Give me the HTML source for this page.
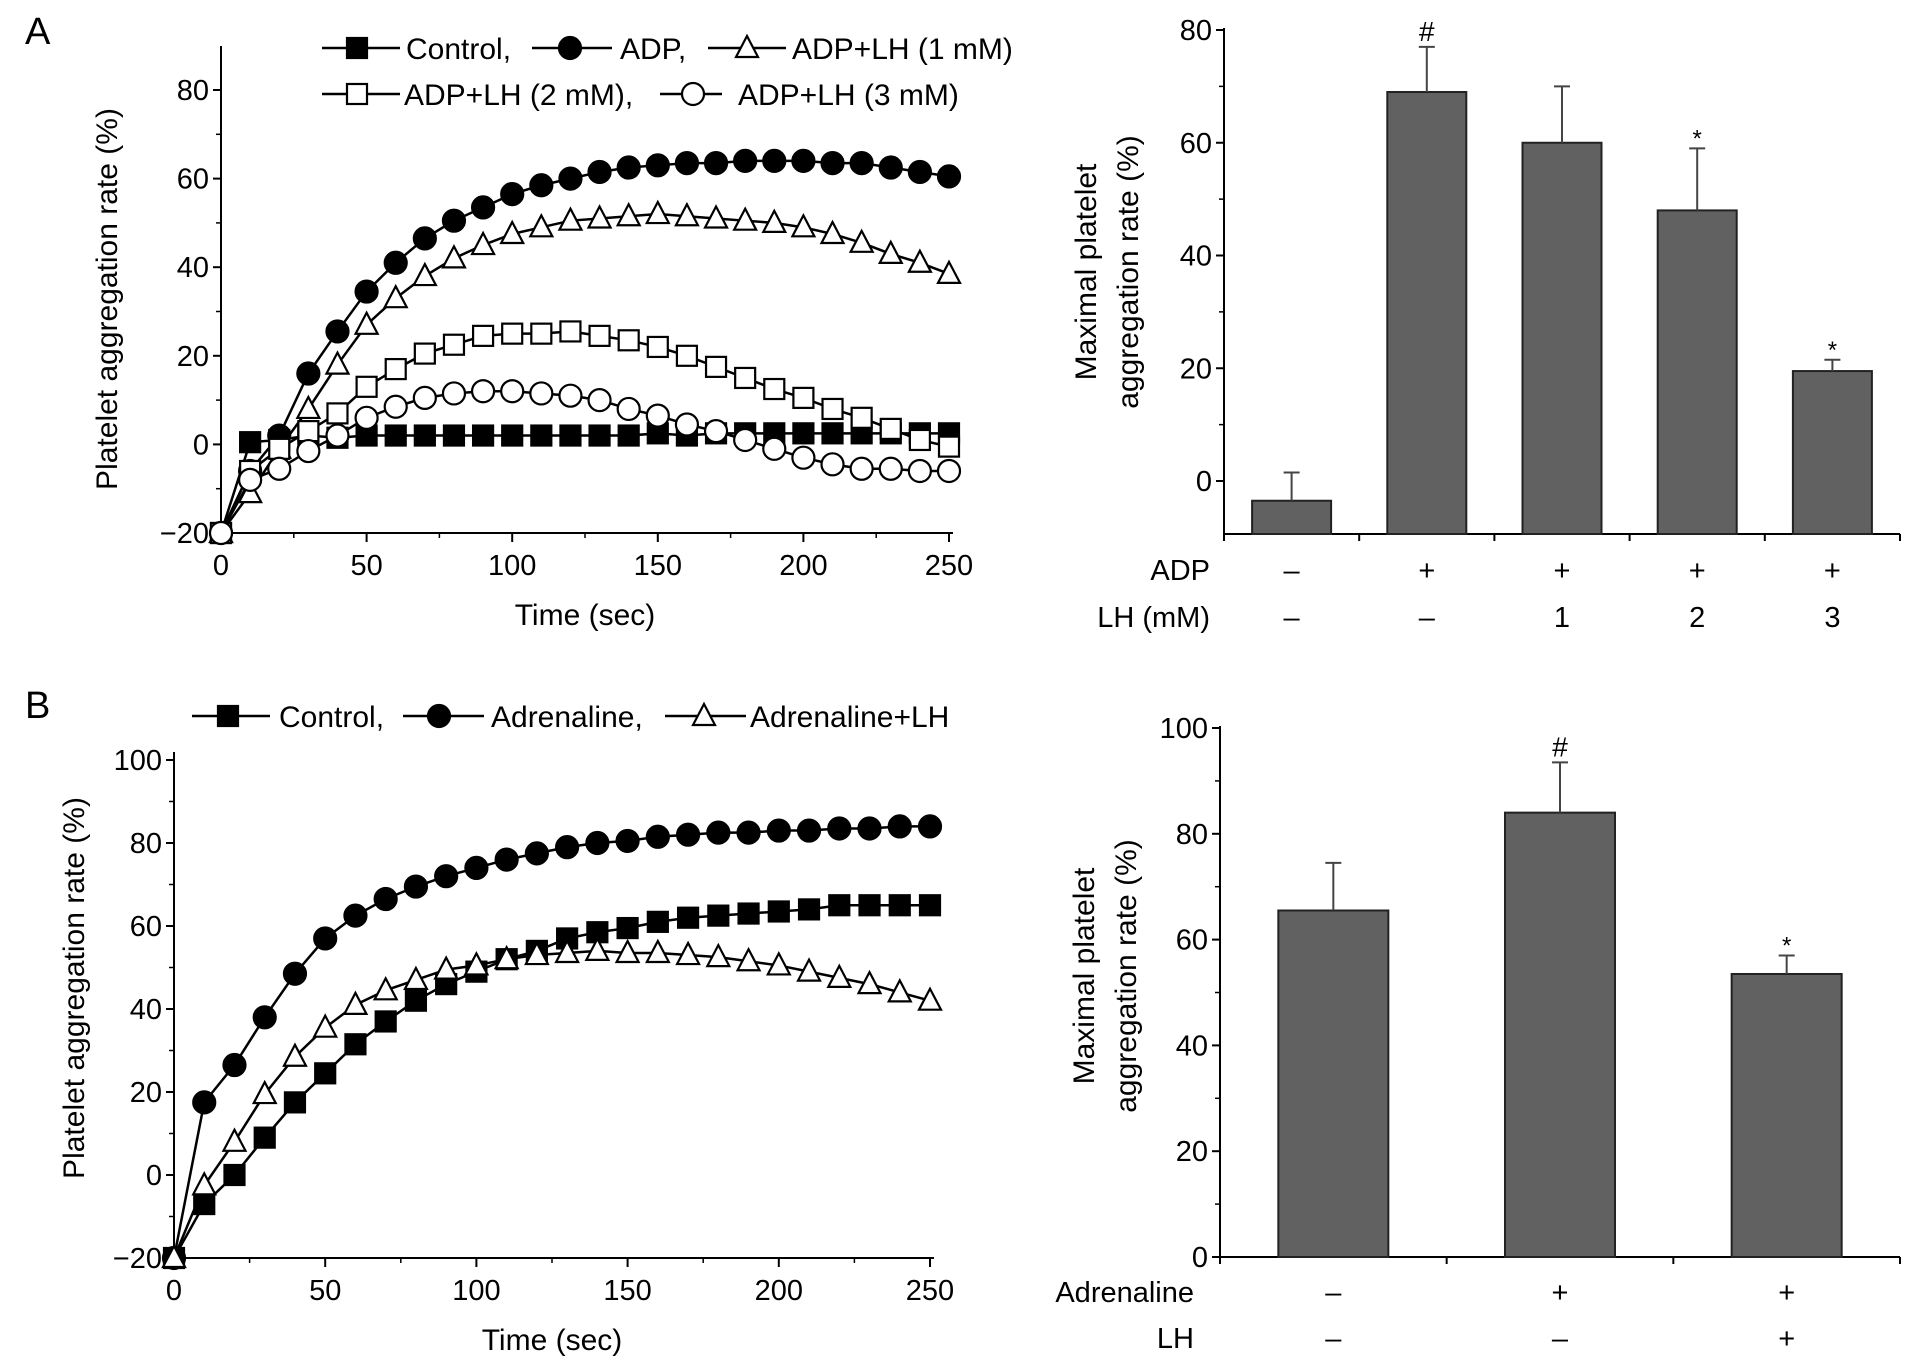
<!DOCTYPE html>
<html><head><meta charset="utf-8"><style>
body{margin:0;background:#fff}
svg{display:block;font-family:"Liberation Sans",Arial,sans-serif}
</style></head><body>
<svg id="fig" width="1913" height="1369" viewBox="0 0 1913 1369"></svg>
<script>
const timeA=[0,10,20,30,40,50,60,70,80,90,100,110,120,130,140,150,160,170,180,190,200,210,220,230,240,250];
const controlA=[-20,0.5,1,2,1.5,2,2,2,2,2,2,2,2,2,2,2.5,2,2.5,2.5,2.5,2.5,2.5,2.5,2.5,2.5,2.5];
const adpA=[-20,-6,2,16,25.5,34.5,41,46.5,50.5,53.5,56.5,58.5,60,61.5,62.5,63,63.5,63.5,64,64,64,63.5,63.5,62.5,61.5,60.5];
const lh1A=[-20,-11,-1,8,18,27,33,38,42,45,47.5,49,50.5,51,51.5,52,51.5,51,50.5,50,49,47.5,45.5,43,41,38.5];
const lh2A=[-20,-6,-1,3,7,13,17,20.5,22.5,24.5,25,25,25.5,24.5,23.5,22,20,17.5,15,12.5,10.5,8,6,3.5,1,-0.5];
const lh3A=[-20,-8,-5.5,-1.5,2,6,8.5,10.5,11.5,12,12,11.5,11,10,8,6.5,4.5,3,1,-1,-3,-4.5,-5.5,-5.5,-6,-6];
const timeB=[0,10,20,30,40,50,60,70,80,90,100,110,120,130,140,150,160,170,180,190,200,210,220,230,240,250];
const controlB=[-20,-7,0,9,17.5,24.5,31.5,37,42,46,49,52,54,57,58.5,59.5,61,62,62.5,63,63.5,64,65,65,65,65];
const adrB=[-20,17.5,26.5,38,48.5,57,62.5,66.5,69.5,72,74,76,77.5,79,80,80.5,81.5,82,82.5,82.5,83,83,83.5,83.5,84,84];
const adrLhB=[-20,-2.5,8,19.5,28.5,35.5,41,44.5,47,49.5,50.5,52,53,53.5,54,53.5,53.5,53,52.5,51.5,50.5,49,47.5,46,44,42];
const barAVals=[-3.5,69,60,48,19.5];
const barAErr=[5,8,10,11,2];
const barAAdp=['–','+','+','+','+'];
const barALh=['–','–','1','2','3'];
const barASig=['','#','','*','*'];
const barBVals=[65.5,84,53.5];
const barBErr=[9,9.5,3.5];
const barBAdr=['–','+','+'];
const barBLh=['–','–','+'];
const barBSig=['','#','*'];
const yTicksA=[-20,0,20,40,60,80];
const xTicks=[0,50,100,150,200,250];
const yTicksBarA=[0,20,40,60,80];
const yTicksB=[-20,0,20,40,60,80,100];
const yTicksBarB=[0,20,40,60,80,100];

const NS='http://www.w3.org/2000/svg';
const svg=document.getElementById('fig');
function el(tag,attrs,parent,text){const e=document.createElementNS(NS,tag);for(const k in attrs)e.setAttribute(k,attrs[k]);if(text!==undefined)e.textContent=text;(parent||svg).appendChild(e);return e;}
function grp(name,parent){const g=el('g',{},parent);return g;}
function lin(x0,x1,d0,d1){return v=>x0+(v-d0)/(d1-d0)*(x1-x0);}

function marker(g,type,x,y){
  const s=10;let m;
  if(type==='sq'||type==='osq') m=el('rect',{x:x-s,y:y-s,width:2*s,height:2*s,fill:type==='sq'?'#000':'#fff',stroke:'#000','stroke-width':2.2},g);
  else if(type==='ci'||type==='oci') m=el('circle',{cx:x,cy:y,r:s+1,fill:type==='ci'?'#000':'#fff',stroke:'#000','stroke-width':2.2},g);
  else m=el('polygon',{points:`${x},${y-s-2} ${x+s+1},${y+s-1} ${x-s-1},${y+s-1}`,fill:'#fff',stroke:'#000','stroke-width':2.2},g);
  
  
}

function lineChart(cfg){
  const g=grp(cfg.name);
  const X=lin(cfg.x0,cfg.x1,0,250), Y=lin(cfg.yb,cfg.yt,cfg.dmin,cfg.dmax);
  const ax=grp('axes',g);
  el('line',{x1:cfg.x0,y1:cfg.axTop,x2:cfg.x0,y2:Y(cfg.dmin),stroke:'#000','stroke-width':2},ax);
  el('line',{x1:cfg.x0,y1:Y(cfg.dmin),x2:cfg.x1+4,y2:Y(cfg.dmin),stroke:'#000','stroke-width':2},ax);
  cfg.yTicks.forEach(v=>{el('line',{x1:cfg.x0-8,y1:Y(v),x2:cfg.x0,y2:Y(v),stroke:'#000','stroke-width':2},ax);
    const t=el('text',{x:cfg.x0-12,y:Y(v)+10,'text-anchor':'end','font-size':29},ax,v<0?'−'+(-v):v);});
  for(let i=0;i<cfg.yTicks.length-1;i++){const v=(cfg.yTicks[i]+cfg.yTicks[i+1])/2;el('line',{x1:cfg.x0-5,y1:Y(v),x2:cfg.x0,y2:Y(v),stroke:'#000','stroke-width':1.5},ax);}
  xTicks.forEach(v=>{el('line',{x1:X(v),y1:Y(cfg.dmin),x2:X(v),y2:Y(cfg.dmin)+9,stroke:'#000','stroke-width':2},ax);
    const t=el('text',{x:X(v),y:Y(cfg.dmin)+42,'text-anchor':'middle','font-size':29},ax,v);});
  for(let i=0;i<xTicks.length-1;i++){const v=xTicks[i]+25;el('line',{x1:X(v),y1:Y(cfg.dmin),x2:X(v),y2:Y(cfg.dmin)+5,stroke:'#000','stroke-width':1.5},ax);}
  const xt=el('text',{x:(cfg.x0+cfg.x1)/2,y:Y(cfg.dmin)+92,'text-anchor':'middle','font-size':30},g,'Time (sec)');
  
  const yt=el('text',{x:0,y:0,'text-anchor':'middle','font-size':30,transform:`translate(${cfg.ytx},${cfg.yty}) rotate(-90)`},g,'Platelet aggregation rate (%)');
  
  cfg.series.forEach(s=>{
    const sg=grp('series-'+s.name,g);
    el('polyline',{points:s.t.map((t,i)=>X(t)+','+Y(s.v[i])).join(' '),fill:'none',stroke:'#000','stroke-width':2.5},sg);
    s.t.forEach((t,i)=>marker(sg,s.m,X(t),Y(s.v[i])));
  });
  const lg=grp('legend',g);
  cfg.legend.forEach(l=>{
    const eg=grp('legend-entry',lg);
    el('line',{x1:l.l0,y1:l.y,x2:l.l1,y2:l.y,stroke:'#000','stroke-width':2.5},eg);
    marker(eg,l.m,l.mx,l.y);
    el('text',{x:l.tx,y:l.y+11,'font-size':30},eg,l.text);
  });
}

function barChart(cfg){
  const g=grp(cfg.name);
  const Y=lin(cfg.y0px,cfg.ytpx,0,cfg.dtop);
  const base=cfg.basePx;
  const ax=grp('axes',g);
  el('line',{x1:cfg.x0,y1:cfg.axTop,x2:cfg.x0,y2:base,stroke:'#000','stroke-width':2},ax);
  el('line',{x1:cfg.x0,y1:base,x2:cfg.x1,y2:base,stroke:'#000','stroke-width':2},ax);
  cfg.yTicks.forEach(v=>{el('line',{x1:cfg.x0-8,y1:Y(v),x2:cfg.x0,y2:Y(v),stroke:'#000','stroke-width':2},ax);
    const t=el('text',{x:cfg.x0-12,y:Y(v)+10,'text-anchor':'end','font-size':29},ax,v);});
  for(let i=0;i<cfg.yTicks.length-1;i++){const v=(cfg.yTicks[i]+cfg.yTicks[i+1])/2;el('line',{x1:cfg.x0-5,y1:Y(v),x2:cfg.x0,y2:Y(v),stroke:'#000','stroke-width':1.5},ax);}
  const n=cfg.vals.length, step=(cfg.x1-cfg.x0)/n;
  for(let i=0;i<=n;i++) el('line',{x1:cfg.x0+i*step,y1:base,x2:cfg.x0+i*step,y2:base+7,stroke:'#000','stroke-width':2},ax);
  cfg.vals.forEach((v,i)=>{
    const cx=cfg.x0+step*(i+0.5);
    const bg=grp('bar-'+(i+1),g);
    el('rect',{x:cx-cfg.bw/2,y:Y(v),width:cfg.bw,height:base-Y(v),fill:'#616161',stroke:'#222','stroke-width':2},bg);
    const top=Y(v+cfg.err[i]);
    el('line',{x1:cx,y1:Y(v),x2:cx,y2:top,stroke:'#444','stroke-width':2},bg);
    el('line',{x1:cx-8,y1:top,x2:cx+8,y2:top,stroke:'#444','stroke-width':2},bg);
    if(cfg.sig[i]) el('text',{x:cx,y:top-(cfg.sig[i]==='*'?2:6),'text-anchor':'middle','font-size':cfg.sig[i]==='*'?24:28},bg,cfg.sig[i]);
    el('text',{x:cx,y:cfg.r1y,'text-anchor':'middle','font-size':29},g,cfg.row1[i]);
    el('text',{x:cx,y:cfg.r2y,'text-anchor':'middle','font-size':29},g,cfg.row2[i]);
  });
  el('text',{x:cfg.lblx,y:cfg.r1y,'text-anchor':'end','font-size':29},g,cfg.lbl1);
  el('text',{x:cfg.lblx,y:cfg.r2y,'text-anchor':'end','font-size':29},g,cfg.lbl2);
  const yt=el('text',{'text-anchor':'middle','font-size':30,transform:`translate(${cfg.ytx},${cfg.yty}) rotate(-90)`},g);
  
  el('tspan',{x:0,y:0},yt,'Maximal platelet');
  el('tspan',{x:0,y:42},yt,'aggregation rate (%)');
}

const pa=el('text',{x:25,y:44,'font-size':38},svg,'A');
const pb=el('text',{x:25,y:718,'font-size':38},svg,'B');

lineChart({name:'panel-a-line-chart',x0:221,x1:949,yb:533,yt:90,dmin:-20,dmax:80,axTop:46,yTicks:yTicksA,ytx:117,yty:299,
 series:[{name:'control',t:timeA,v:controlA,m:'sq'},{name:'adp',t:timeA,v:adpA,m:'ci'},{name:'adp-lh-1',t:timeA,v:lh1A,m:'tri'},{name:'adp-lh-2',t:timeA,v:lh2A,m:'osq'},{name:'adp-lh-3',t:timeA,v:lh3A,m:'oci'}],
 legend:[{l0:322,l1:400,mx:357,y:48,m:'sq',tx:406,text:'Control,'},{l0:532,l1:612,mx:570,y:48,m:'ci',tx:620,text:'ADP,'},{l0:708,l1:786,mx:747,y:48,m:'tri',tx:792,text:'ADP+LH (1 mM)'},
  {l0:322,l1:400,mx:357,y:94,m:'osq',tx:404,text:'ADP+LH (2 mM),'},{l0:660,l1:722,mx:693,y:94,m:'oci',tx:738,text:'ADP+LH (3 mM)'}]});

lineChart({name:'panel-b-line-chart',x0:174,x1:930,yb:1258,yt:760,dmin:-20,dmax:100,axTop:752,yTicks:yTicksB,ytx:84,yty:988,
 series:[{name:'control',t:timeB,v:controlB,m:'sq'},{name:'adrenaline',t:timeB,v:adrB,m:'ci'},{name:'adrenaline-lh',t:timeB,v:adrLhB,m:'tri'}],
 legend:[{l0:192,l1:270,mx:228,y:716,m:'sq',tx:279,text:'Control,'},{l0:403,l1:484,mx:439,y:716,m:'ci',tx:491,text:'Adrenaline,'},{l0:665,l1:746,mx:704,y:716,m:'tri',tx:750,text:'Adrenaline+LH'}]});

barChart({name:'panel-a-bar-chart',x0:1224,x1:1900,y0px:481,ytpx:30,dtop:80,basePx:534,axTop:28,yTicks:yTicksBarA,bw:79,
 vals:barAVals,err:barAErr,sig:barASig,row1:barAAdp,row2:barALh,r1y:580,r2y:627,lblx:1210,lbl1:'ADP',lbl2:'LH (mM)',ytx:1096,yty:272});

barChart({name:'panel-b-bar-chart',x0:1220,x1:1900,y0px:1257,ytpx:728,dtop:100,basePx:1257,axTop:726,yTicks:yTicksBarB,bw:110,
 vals:barBVals,err:barBErr,sig:barBSig,row1:barBAdr,row2:barBLh,r1y:1302,r2y:1348,lblx:1194,lbl1:'Adrenaline',lbl2:'LH',ytx:1094,yty:976});
</script>
</body></html>
